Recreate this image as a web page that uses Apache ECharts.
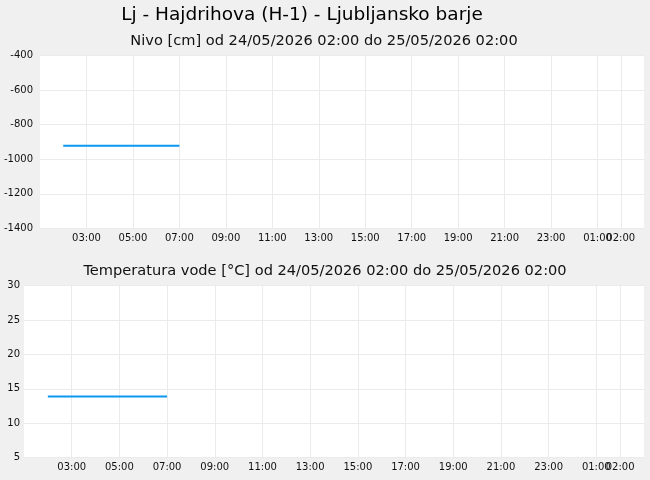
<!DOCTYPE html>
<html>
<head>
<meta charset="utf-8">
<script src="https://cdn.jsdelivr.net/npm/echarts@6/dist/echarts.min.js"></script>
<style>
html,body{margin:0;padding:0;background:#f0f0f0;}
#c{width:650px;height:480px;}
</style>
</head>
<body>
<div id="c"></div>
<script>
// ---- data ----
const mainTitle = "Lj - Hajdrihova (H-1) - Ljubljansko barje";
const levelTitle = "Nivo [cm] od 24/05/2026 02:00 do 25/05/2026 02:00";
const tempTitle = "Temperatura vode [°C] od 24/05/2026 02:00 do 25/05/2026 02:00";
const times = ["2026-05-24T02:00", "2026-05-24T03:00", "2026-05-24T04:00", "2026-05-24T05:00", "2026-05-24T06:00", "2026-05-24T07:00"];
const levelValues = [-922, -922, -922, -922, -922, -922];
const tempValues = [13.9, 13.9, 13.9, 13.9, 13.9, 13.9];
const axisStart = "2026-05-24T01:00";
const axisEnd = "2026-05-25T03:00";
const tickTimes = ["2026-05-24T03:00","2026-05-24T05:00","2026-05-24T07:00","2026-05-24T09:00","2026-05-24T11:00","2026-05-24T13:00","2026-05-24T15:00","2026-05-24T17:00","2026-05-24T19:00","2026-05-24T21:00","2026-05-24T23:00","2026-05-25T01:00","2026-05-25T02:00"];
const endTickTimes = ["2026-05-25T02:00"];

const ts = s => Date.parse(s + ":00Z");
const pad = n => (n < 10 ? "0" : "") + n;
const fmt = v => { const d = new Date(v); return pad(d.getUTCHours()) + ":" + pad(d.getUTCMinutes()); };
const tickVals = tickTimes.map(ts);
const endVals = endTickTimes.map(ts);
const labelVals = tickVals.filter(v => endVals.indexOf(v) < 0);

const FONT = "DejaVu Sans";
function xAxis(gridIndex, ticks, labels, split) {
  return {
    type: 'value', gridIndex: gridIndex, position: 'bottom',
    min: ts(axisStart), max: ts(axisEnd),
    axisLine: {show: false},
    axisTick: {show: false, customValues: ticks},
    axisLabel: {customValues: labels, formatter: fmt, fontFamily: FONT, fontSize: 10, color: '#111', margin: 5, hideOverlap: false},
    splitLine: {show: split, lineStyle: {color: '#ebebeb', width: 1}}
  };
}
function yAxis(gridIndex, min, max, interval, margin) {
  return {
    type: 'value', gridIndex: gridIndex, min: min, max: max, interval: interval,
    axisLine: {show: false}, axisTick: {show: false},
    axisLabel: {fontFamily: FONT, fontSize: 10, color: '#111', margin: margin, formatter: v => String(v)},
    splitLine: {show: true, lineStyle: {color: '#ebebeb', width: 1}}
  };
}
const chart = echarts.init(document.getElementById('c'), null, {renderer: 'canvas'});
chart.setOption({
  backgroundColor: '#f0f0f0',
  animation: false,
  title: [
    {text: mainTitle, left: 297, top: 1, textAlign: 'center', textStyle: {fontFamily: FONT, fontSize: 18.5, fontWeight: 'normal', color: '#000'}},
    {text: levelTitle, left: 319, top: 29, textAlign: 'center', textStyle: {fontFamily: FONT, fontSize: 14.6, fontWeight: 'normal', color: '#111'}},
    {text: tempTitle, left: 320, top: 259, textAlign: 'center', textStyle: {fontFamily: FONT, fontSize: 14.6, fontWeight: 'normal', color: '#111'}}
  ],
  grid: [
    {left: 40, right: 6, top: 55.7, bottom: 251.7, show: true, backgroundColor: '#fff', borderWidth: 0},
    {left: 24, right: 6, top: 285.7, bottom: 22.3, show: true, backgroundColor: '#fff', borderWidth: 0}
  ],
  xAxis: [
    xAxis(0, tickVals, labelVals, true), xAxis(1, tickVals, labelVals, true),
    xAxis(0, endVals, endVals, false), xAxis(1, endVals, endVals, false)
  ],
  yAxis: [yAxis(0, -1400, -400, 200, 7), yAxis(1, 5, 30, 5, 4)],
  series: [
    {type: 'line', xAxisIndex: 0, yAxisIndex: 0, data: times.map((t, i) => [ts(t), levelValues[i]]), showSymbol: false, lineStyle: {color: '#0a98f0', width: 2}, itemStyle: {color: '#0a98f0'}},
    {type: 'line', xAxisIndex: 1, yAxisIndex: 1, data: times.map((t, i) => [ts(t), tempValues[i]]), showSymbol: false, lineStyle: {color: '#0a98f0', width: 2}, itemStyle: {color: '#0a98f0'}}
  ]
});
</script>
</body>
</html>
